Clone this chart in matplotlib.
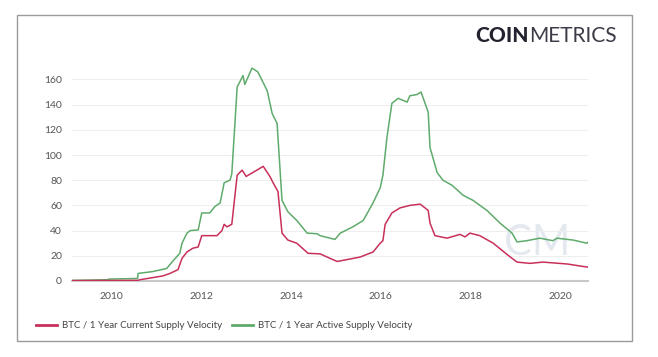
import matplotlib.pyplot as plt
from matplotlib.patches import Rectangle

# Data (decimal year, velocity)
active_years = [2009.11, 2009.92, 2009.93, 2010.58, 2010.59, 2010.92, 2011.23, 2011.37,
                2011.52, 2011.57, 2011.68, 2011.75, 2011.93, 2012.01, 2012.19, 2012.30,
                2012.42, 2012.51, 2012.64, 2012.68, 2012.80, 2012.93, 2012.97, 2013.13,
                2013.26, 2013.47, 2013.58, 2013.69, 2013.80, 2013.93, 2014.13, 2014.36,
                2014.58, 2014.65, 2014.98, 2015.10, 2015.38, 2015.61, 2015.83, 2015.99,
                2016.05, 2016.14, 2016.25, 2016.39, 2016.59, 2016.65, 2016.81, 2016.90,
                2016.99, 2017.06, 2017.10, 2017.26, 2017.39, 2017.59, 2017.84, 2018.06,
                2018.37, 2018.66, 2018.93, 2019.04, 2019.26, 2019.55, 2019.84, 2019.93,
                2020.29, 2020.60, 2020.63]
active_velocity = [0.5, 1, 1.5, 2, 6, 7.5, 10, 16,
                   22, 30, 38, 40, 40.5, 54, 54, 59,
                   62, 78, 80, 85, 154, 163, 156, 169,
                   166, 151, 133, 125, 64, 55, 48, 38,
                   37.5, 36, 33, 38, 43, 48, 62, 74,
                   84, 114, 141, 145, 142, 147, 148, 150,
                   141, 134, 106, 86, 80, 76, 68, 64,
                   56, 46, 38, 31, 32, 34, 32, 34,
                   32.5, 30, 31]

current_years = [2009.11, 2010.59, 2010.63, 2011.14, 2011.30, 2011.48, 2011.57, 2011.68,
                 2011.81, 2011.93, 2012.01, 2012.35, 2012.46, 2012.51, 2012.57, 2012.68,
                 2012.80, 2012.91, 2013.00, 2013.24, 2013.38, 2013.53, 2013.60, 2013.71,
                 2013.80, 2013.93, 2014.13, 2014.38, 2014.65, 2014.87, 2015.03, 2015.25,
                 2015.54, 2015.83, 2015.99, 2016.05, 2016.10, 2016.25, 2016.43, 2016.65,
                 2016.88, 2016.99, 2017.06, 2017.10, 2017.21, 2017.48, 2017.77, 2017.88,
                 2017.99, 2018.21, 2018.51, 2018.82, 2019.04, 2019.33, 2019.62, 2020.16,
                 2020.52, 2020.63]
current_velocity = [0.3, 0.5, 1, 4, 6, 9, 18, 23,
                    26, 27, 36, 36, 40, 45, 43, 45,
                    84, 88, 83, 88, 91, 83, 78, 71,
                    38, 32.5, 30, 22, 21.5, 18, 15.5, 17,
                    19, 23, 30, 32, 45, 54, 58, 60,
                    61, 58, 56, 46, 36, 34, 37, 35,
                    38, 36, 30, 21, 15, 14, 15, 13.5,
                    11.5, 11]

year_ticks = [2010, 2012, 2014, 2016, 2018, 2020]
value_ticks = [0, 20, 40, 60, 80, 100, 120, 140, 160]

plt.rcParams['font.family'] = ['Lato', 'DejaVu Sans']

fig = plt.figure(figsize=(6.58, 3.57), dpi=100)
fig.patch.set_facecolor('white')

# outer frame
fig.patches.append(Rectangle((17 / 658, 1 - 341 / 357), 615 / 658, 326 / 357,
                             transform=fig.transFigure, fill=False,
                             edgecolor='#9a9a9a', linewidth=1.0))

ax = fig.add_axes([71.7 / 658, 76 / 357, 516.6 / 658, 216.7 / 357])

# watermark
ax.text(2019.5, 30, 'CM', fontsize=30, color='#e4e9f0', ha='center', va='center',
        fontweight='normal', zorder=0)

ax.plot(active_years, active_velocity, color='#5fab6c', linewidth=1.1,
        label='BTC / 1 Year Active Supply Velocity', zorder=3)
ax.plot(current_years, current_velocity, color='#c8305a', linewidth=1.1,
        label='BTC / 1 Year Current Supply Velocity', zorder=4)

ax.set_xlim(2009.11, 2020.63)
ax.set_ylim(0, 172)
ax.set_xticks(year_ticks)
ax.set_xticklabels([str(y) for y in year_ticks])
ax.set_yticks(value_ticks)
ax.grid(axis='y', color='#eeeeee', linewidth=0.8)
ax.set_axisbelow(True)
for s in ['top', 'right', 'left']:
    ax.spines[s].set_visible(False)
ax.spines['bottom'].set_color('#c8c8c8')
ax.spines['bottom'].set_linewidth(1.5)
ax.tick_params(axis='both', length=0, labelsize=7.5, colors='#555555')
ax.tick_params(axis='x', pad=8)
ax.tick_params(axis='y', pad=7)

# logo
fig.text(529 / 658, 1 - 36 / 357, 'COIN', fontsize=15, fontweight='black',
         color='#23232f', ha='right', va='center')
fig.text(529 / 658, 1 - 36 / 357, 'METRICS', fontsize=15, fontweight='normal',
         color='#3c3c48', ha='left', va='center')

handles, labels = ax.get_legend_handles_labels()
leg = fig.legend(handles[::-1], labels[::-1], loc='center left',
                 bbox_to_anchor=(27 / 658, 1 - 326 / 357), ncol=2, frameon=False,
                 fontsize=7, handlelength=2.2, handletextpad=0.5, columnspacing=1.0)
for line in leg.get_lines():
    line.set_linewidth(2)
for t in leg.get_texts():
    t.set_color('#444444')

fig.savefig('out.png', dpi=100)
